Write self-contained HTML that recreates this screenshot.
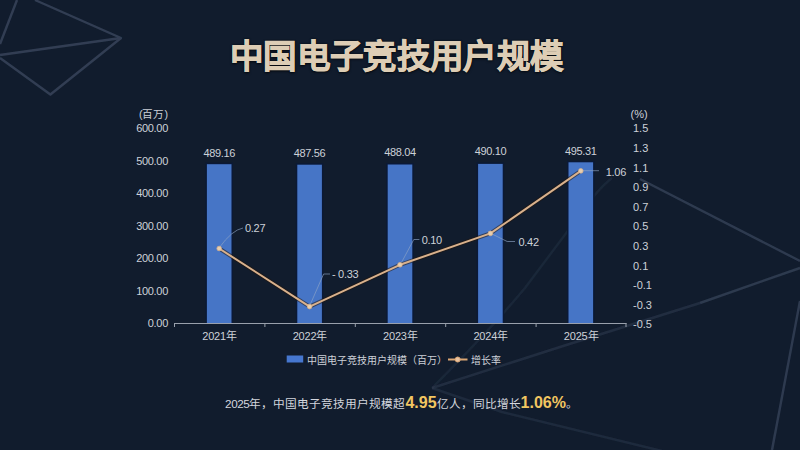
<!DOCTYPE html>
<html lang="zh-CN">
<head>
<meta charset="utf-8">
<style>
html,body{margin:0;padding:0;}
body{width:800px;height:450px;overflow:hidden;background:#111c2d;position:relative;font-family:"Liberation Sans",sans-serif;color:#cdd1d8;}
.abs{position:absolute;white-space:nowrap;}
#title{left:-3.3px;width:800px;top:32.5px;text-align:center;font-size:33.5px;letter-spacing:0.35px;font-weight:bold;color:#ddcdb5;line-height:48px;-webkit-text-stroke:0.8px #ddcdb5;text-shadow:0 0 2px rgba(0,0,0,0.9),0 1px 3px rgba(0,0,0,0.8);}
svg{position:absolute;left:0;top:0;}
.foot{left:1.5px;width:800px;top:393px;text-align:center;font-size:11.7px;line-height:20px;color:#d3d6dd;}
.foot b{color:#f2c661;font-size:16px;}
</style>
</head>
<body>
<svg width="800" height="450" viewBox="0 0 800 450">
  <defs><filter id="bl" x="-5%" y="-5%" width="110%" height="110%"><feGaussianBlur stdDeviation="0.7"/></filter></defs>
  <g stroke="#313e53" stroke-width="2.4" fill="none" stroke-linejoin="round" filter="url(#bl)">
    <path d="M35 0 L121 38 L0 55"/>
    <path d="M121 38 L50.4 94.5 L0 58"/>
    <path d="M17 0 L0 44"/>
    <path d="M640 179 L800 261" stroke-opacity="0.9"/>
    <path d="M800 301 L772 450" stroke-opacity="0.9"/>
    <path d="M800 268 L700 303" stroke-opacity="0.85"/>
    <path d="M700 303 L560 347 L432 388" stroke-opacity="0.5"/>
    <path d="M612 178 Q596 190 570 228 L525 288 Q490 330 432 388" stroke-opacity="0.3"/>
    <path d="M432 388 L502 412 L670 453" stroke-opacity="0.4"/>
  </g>
</svg>
<div id="title" class="abs">中国电子竞技用户规模</div>
<svg width="800" height="450" viewBox="0 0 800 450" font-family="Liberation Sans, sans-serif">
  <!-- bars -->
  <g fill="#0b1936">
    <rect x="205.4" y="162.7" width="27.6" height="160.8"/>
    <rect x="295.8" y="163.2" width="27.6" height="160.3"/>
    <rect x="386.2" y="163.0" width="27.6" height="160.5"/>
    <rect x="476.6" y="162.4" width="27.6" height="161.1"/>
    <rect x="567.0" y="160.8" width="27.6" height="162.7"/>
  </g>
  <g fill="#4675c6">
    <rect x="206.9" y="164.2" width="24.6" height="159.3"/>
    <rect x="297.3" y="164.7" width="24.6" height="158.8"/>
    <rect x="387.7" y="164.5" width="24.6" height="159.0"/>
    <rect x="478.1" y="163.9" width="24.6" height="159.6"/>
    <rect x="568.5" y="162.3" width="24.6" height="161.2"/>
  </g>
  <!-- axis -->
  <g stroke="#99a0ac" stroke-width="1" fill="none">
    <path d="M174 323.5 H626.5"/>
    <path d="M174.5 323 V327 M264.9 323 V327 M355.3 323 V327 M445.7 323 V327 M536.1 323 V327 M626 323 V327"/>
  </g>
  <!-- left labels -->
  <g fill="#cdd1d8" font-size="11" text-anchor="end" letter-spacing="-0.3">
    <text x="168" y="132.3">600.00</text>
    <text x="168" y="164.8">500.00</text>
    <text x="168" y="197.3">400.00</text>
    <text x="168" y="229.8">300.00</text>
    <text x="168" y="262.3">200.00</text>
    <text x="168" y="294.8">100.00</text>
    <text x="168" y="327.3">0.00</text>
  </g>
  <text x="168" y="118" fill="#cdd1d8" font-size="10.6" text-anchor="end">(百万)</text>
  <text x="630.5" y="118" fill="#cdd1d8" font-size="11">(%)</text>
  <!-- right labels -->
  <g fill="#cdd1d8" font-size="11">
    <text x="633" y="132.3">1.5</text>
    <text x="633" y="151.9">1.3</text>
    <text x="633" y="171.5">1.1</text>
    <text x="633" y="191.1">0.9</text>
    <text x="633" y="210.7">0.7</text>
    <text x="633" y="230.3">0.5</text>
    <text x="633" y="249.9">0.3</text>
    <text x="633" y="269.5">0.1</text>
    <text x="633" y="289.1">-0.1</text>
    <text x="633" y="308.7">-0.3</text>
    <text x="633" y="328.3">-0.5</text>
  </g>
  <!-- x labels -->
  <g fill="#cdd1d8" font-size="11" text-anchor="middle" letter-spacing="-0.2">
    <text x="219.5" y="340">2021年</text>
    <text x="309.9" y="340">2022年</text>
    <text x="400.3" y="340">2023年</text>
    <text x="490.7" y="340">2024年</text>
    <text x="581.1" y="340">2025年</text>
  </g>
  <!-- bar value labels -->
  <g fill="#cdd1d8" font-size="11" text-anchor="middle" letter-spacing="-0.35">
    <text x="219.2" y="156.5">489.16</text>
    <text x="309.6" y="157">487.56</text>
    <text x="400" y="156">488.04</text>
    <text x="490.4" y="155.3">490.10</text>
    <text x="580.8" y="155">495.31</text>
  </g>
  <!-- leader lines -->
  <g stroke="#8fa6c6" stroke-width="0.8" fill="none" stroke-opacity="0.8">
    <path d="M219 248 Q232 230 243 228"/>
    <path d="M309.4 306.5 L323.6 274 H330"/>
    <path d="M400.3 264.7 L413.8 239.5 H419.4"/>
    <path d="M490.4 233.2 L507.2 241.5 H515"/>
    <path d="M580.7 170.7 H599"/>
  </g>
  <!-- line -->
  <polyline points="219.2,248.5 309.6,306.6 400,264.8 490.4,233.4 580.8,170.9" fill="none" stroke="#24170e" stroke-opacity="0.55" stroke-width="4" stroke-linejoin="round"/>
  <polyline points="219.2,248.5 309.6,306.6 400,264.8 490.4,233.4 580.8,170.9" fill="none" stroke="#d9b18c" stroke-width="2" stroke-linejoin="round"/>
  <g fill="#e6cfb0" stroke="#d9b18c" stroke-width="0.8">
    <circle cx="219.2" cy="248.5" r="2.3"/>
    <circle cx="309.6" cy="306.6" r="2.3"/>
    <circle cx="400" cy="264.8" r="2.3"/>
    <circle cx="490.4" cy="233.4" r="2.3"/>
    <circle cx="580.8" cy="170.9" r="2.3"/>
  </g>
  <!-- line labels -->
  <g fill="#cdd1d8" font-size="11" letter-spacing="-0.3">
    <text x="245" y="232">0.27</text>
    <text x="332" y="278">- 0.33</text>
    <text x="421.7" y="244">0.10</text>
    <text x="518.5" y="246">0.42</text>
    <text x="605.8" y="175.5">1.06</text>
  </g>
  <!-- legend -->
  <rect x="286.7" y="355.5" width="16.5" height="7" fill="#4677cf"/>
  <text x="307" y="363.5" fill="#cdd1d8" font-size="10">中国电子竞技用户规模（百万）</text>
  <path d="M448 359.5 H467.5" stroke="#dca774" stroke-width="2"/>
  <circle cx="457.7" cy="359.5" r="2.5" fill="#e8c3a2" stroke="#dca774"/>
  <text x="470.5" y="363.5" fill="#cdd1d8" font-size="10">增长率</text>
</svg>
<div class="abs foot"><span style="letter-spacing:-0.4px">2025</span>年，中国电子竞技用户规模超<b>4.95</b>亿人，同比增长<b>1.06%</b>。</div>
</body>
</html>
